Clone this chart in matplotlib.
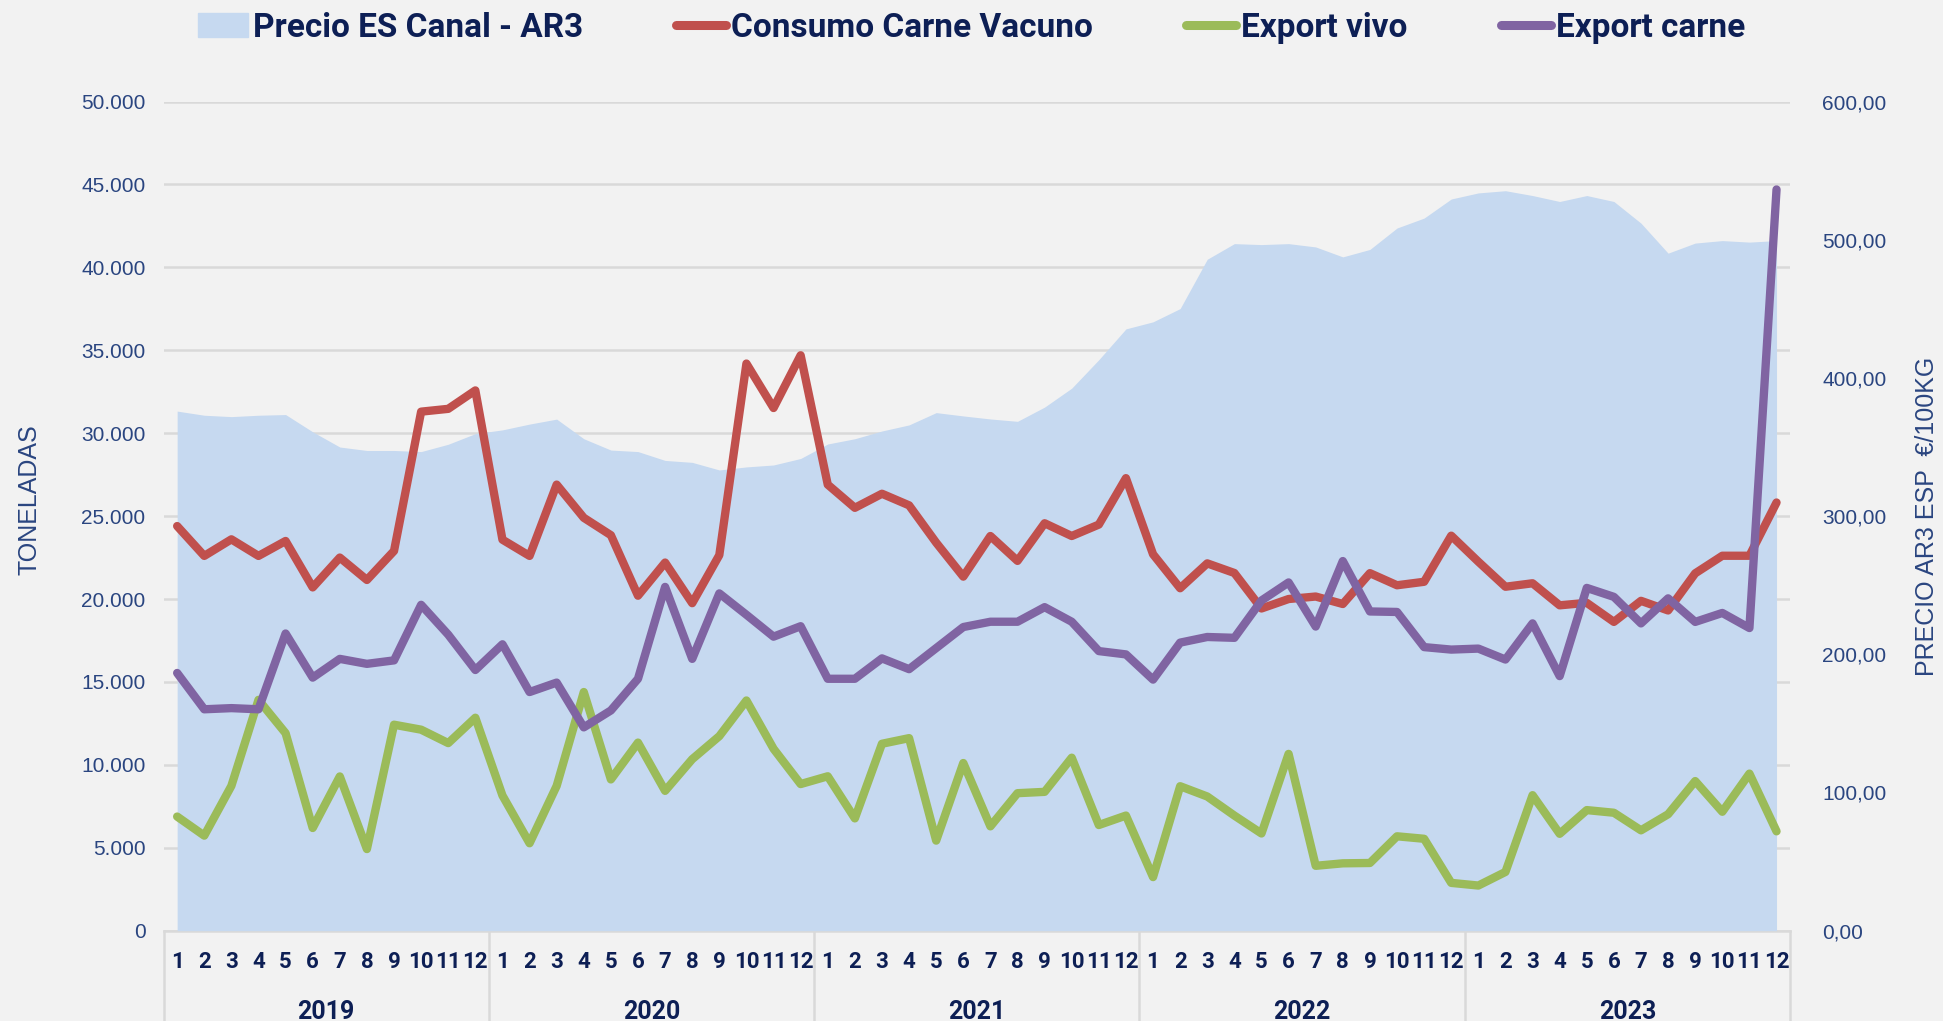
import matplotlib
matplotlib.use("Agg")
import matplotlib.pyplot as plt
from matplotlib.patches import Patch
from matplotlib.lines import Line2D
from matplotlib.ticker import FuncFormatter
import matplotlib.transforms as mtransforms

years = ["2019", "2020", "2021", "2022", "2023"]
months = [str(m) for m in range(1, 13)]

precio = [376, 373, 372, 373, 373.5, 361, 350, 347.5, 347.5, 346.7, 352, 359.7,
          362.4, 366.6, 370.2, 356, 347.8, 346.7, 340.3, 338.9, 333.4, 335.6, 337, 341.7,
          352.2, 356, 361.6, 366, 374.9, 372.5, 370.3, 368.6, 378.9, 392.6, 413.2, 435.5,
          440.6, 450.2, 485.9, 497.2, 496.5, 497.2, 494.8, 487.6, 493, 508.5, 515.7, 529.5,
          533.9, 535.5, 532, 527.7, 532, 527.7, 512, 490.3, 497.6, 499.4, 498.3, 499.4]

consumo = [24400, 22600, 23600, 22600, 23500, 20700, 22500, 21150, 22900, 31300, 31470, 32580,
           23580, 22600, 26900, 24900, 23850, 20200, 22200, 19750, 22650, 34200, 31520, 34700,
           26900, 25500, 26350, 25650, 23400, 21350, 23800, 22300, 24570, 23800, 24490, 27290,
           22700, 20650, 22150, 21570, 19430, 20000, 20150, 19700, 21560, 20830, 21040, 23820,
           22250, 20740, 20950, 19620, 19770, 18620, 19890, 19310, 21550, 22610, 22610, 25820]

export_vivo = [6880, 5730, 8730, 13920, 11910, 6190, 9300, 4920, 12420, 12120, 11310, 12840,
               8150, 5270, 8730, 14390, 9120, 11340, 8430, 10340, 11730, 13880, 10970, 8840,
               9310, 6770, 11270, 11610, 5430, 10110, 6290, 8290, 8370, 10430, 6370, 6940,
               3230, 8710, 8090, 6940, 5860, 10660, 3910, 4060, 4080, 5690, 5540, 2880,
               2720, 3540, 8170, 5840, 7270, 7110, 6050, 7020, 9020, 7170, 9470, 5990]

export_carne = [15540, 13350, 13420, 13350, 17920, 15260, 16390, 16090, 16300, 19650, 17850, 15720,
                17270, 14390, 14960, 12260, 13280, 15190, 20730, 16390, 20340, 19050, 17730, 18360,
                15190, 15190, 16420, 15770, 17040, 18310, 18630, 18630, 19510, 18630, 16860, 16660,
                15140, 17370, 17710, 17660, 19910, 21000, 18340, 22290, 19250, 19220, 17100, 16950,
                17010, 16350, 18530, 15350, 20670, 20130, 18530, 20040, 18620, 19160, 18250, 44700]

BG = "#F2F2F2"
NAVY = "#0D1F55"
TICK = "#2A4580"
GRID = "#D9D9D9"
AREA = "#C6D9F0"
RED = "#C0504D"
GREEN = "#9BBB59"
PURPLE = "#8064A2"
BOLDF = ["Roboto", "DejaVu Sans"]
REG = ["Liberation Sans", "DejaVu Sans"]

x = list(range(len(precio)))
month_labels = months * len(years)

fig = plt.figure(figsize=(19.43, 10.21), dpi=100, facecolor=BG)
pos = [0.0842, 0.0885, 0.8371, 0.812]

# bottom layer: grid + left axis
ax = fig.add_axes(pos, facecolor=BG)
ax.set_xlim(-0.5, len(x) - 0.5)
ax.set_ylim(0, 50000)
ax.set_yticks(range(0, 50001, 5000))
ax.yaxis.set_major_formatter(FuncFormatter(lambda v, p: f"{int(v):,}".replace(",", ".")))
ax.grid(axis="y", color=GRID, lw=1.8)
ax.set_axisbelow(True)
for s in ["top", "right", "left"]:
    ax.spines[s].set_visible(False)
ax.spines["bottom"].set_color(GRID)
ax.spines["bottom"].set_linewidth(1.8)
ax.tick_params(axis="y", length=0, pad=13, labelcolor=TICK, labelsize=15)
for t in ax.get_yticklabels():
    t.set_family(REG)
ax.set_xticks(x, labels=month_labels)
ax.tick_params(axis="x", length=0, pad=15, labelcolor=NAVY, labelsize=16)
for t in ax.get_xticklabels():
    t.set_family(BOLDF)
    t.set_fontweight("bold")
ax.set_ylabel("TONELADAS", color=TICK, fontsize=18, family=REG)
ax.yaxis.set_label_coords(-0.075, 0.52)

# year row of the category axis
trans = mtransforms.blended_transform_factory(ax.transData, ax.transAxes)
for i, yr in enumerate(years):
    ax.text(i * 12 + 5.5, -0.098, yr, transform=trans, ha="center", va="center",
            fontsize=18, fontweight="bold", color=NAVY, family=BOLDF)
for i in range(len(years) + 1):
    ax.plot([i * 12 - 0.5, i * 12 - 0.5], [0, -0.15], transform=trans, color=GRID,
            lw=1.8, clip_on=False)

# middle layer: price area on right axis
ax2 = ax.twinx()
ax2.set_ylim(0, 600)
ax2.set_yticks(range(0, 601, 100))
ax2.yaxis.set_major_formatter(FuncFormatter(lambda v, p: f"{v:.2f}".replace(".", ",")))
ax2.fill_between(x, precio, 0, color=AREA, lw=0)
for s in ax2.spines.values():
    s.set_visible(False)
ax2.tick_params(axis="y", length=0, pad=23, labelcolor=TICK, labelsize=15)
for t in ax2.get_yticklabels():
    t.set_family(REG)
ax2.set_ylabel("PRECIO AR3 ESP  €/100KG", color=TICK, fontsize=18, family=REG)
ax2.yaxis.set_label_coords(1.077, 0.50)
ax2.patch.set_visible(False)

# top layer: lines on left scale
ax3 = fig.add_axes(pos, sharex=ax, sharey=ax)
ax3.patch.set_visible(False)
ax3.axis("off")
lw = 6
ax3.plot(x, consumo, color=RED, lw=lw, solid_joinstyle="round", solid_capstyle="round")
ax3.plot(x, export_vivo, color=GREEN, lw=lw, solid_joinstyle="round", solid_capstyle="round")
ax3.plot(x, export_carne, color=PURPLE, lw=lw, solid_joinstyle="round", solid_capstyle="round")

ax.set_zorder(0)
ax2.set_zorder(1)
ax3.set_zorder(2)

handles = [
    Patch(facecolor=AREA, edgecolor=AREA),
    Line2D([0], [0], color=RED, lw=6.5, solid_capstyle="round"),
    Line2D([0], [0], color=GREEN, lw=6.5, solid_capstyle="round"),
    Line2D([0], [0], color=PURPLE, lw=6.5, solid_capstyle="round"),
]
labels = ["Precio ES Canal - AR3", "Consumo Carne Vacuno", "Export vivo", "Export carne"]
fig.legend(handles, labels, loc="center", bbox_to_anchor=(0.5, 0.973), ncol=4,
           frameon=False, handlelength=1.5, handletextpad=0.15, columnspacing=2.8,
           prop={"family": BOLDF, "weight": "bold", "size": 24}, labelcolor=NAVY)

fig.savefig("out.png", dpi=100, facecolor=BG)
